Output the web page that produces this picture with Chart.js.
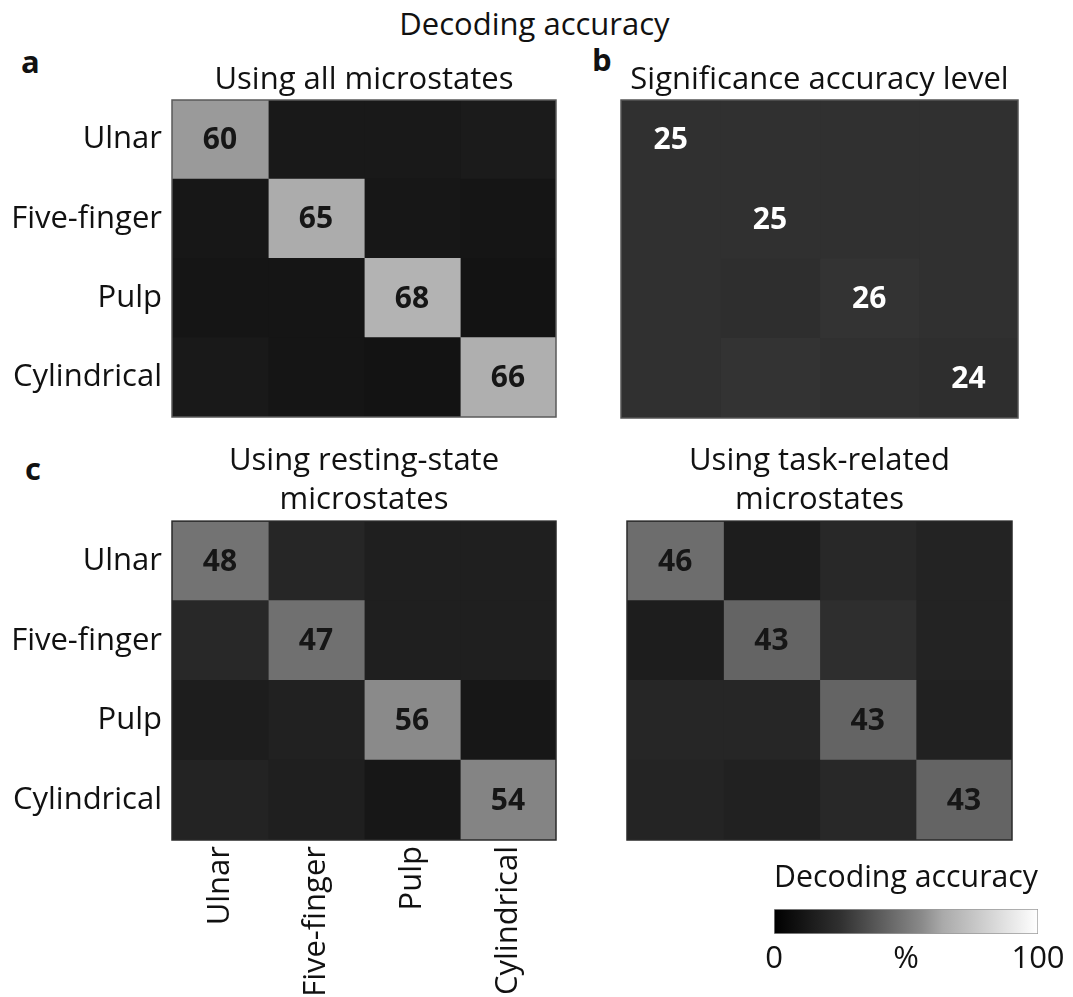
<!DOCTYPE html>
<html>
<head>
<meta charset="utf-8">
<script src="https://cdn.jsdelivr.net/npm/chart.js@4.4.1/dist/chart.umd.min.js"></script>
<style>
  body { margin: 0; background: #fff; width: 1073px; height: 997px; position: relative; overflow: hidden; font-family: "Open Sans", sans-serif; color: #111; }
  canvas { position: absolute; }
  .txt { position: absolute; white-space: nowrap; line-height: 1; }
  .letter { font-weight: bold; font-size: 31px; }
</style>
</head>
<body>
<div class="txt" style="left:0;width:1073px;top:8px;text-align:center;font-size:31px;padding-right:4px;box-sizing:border-box;">Decoding accuracy</div>
<div class="txt letter" style="left:21px;top:46px;">a</div>
<div class="txt letter" style="left:592px;top:44px;">b</div>
<div class="txt letter" style="left:25px;top:453px;">c</div>

<canvas id="panelA" width="570" height="367" style="left:0;top:55px;"></canvas>
<canvas id="panelB" width="473" height="368" style="left:600px;top:55px;"></canvas>
<canvas id="panelC1" width="570" height="561" style="left:0;top:436px;"></canvas>
<canvas id="panelC2" width="473" height="410" style="left:600px;top:436px;"></canvas>
<canvas id="colorbar" width="333" height="130" style="left:740px;top:855px;"></canvas>

<script>
// grasp types (rows = true class, columns = decoded class)
const graspLabels = ['Ulnar', 'Five-finger', 'Pulp', 'Cylindrical'];

// decoding accuracy, % (diagonals printed in the figure, off-diagonals read from shading)
const allMicrostates = [
  [60, 13, 13, 14],
  [12, 65, 12, 11],
  [11, 11, 68, 10],
  [13, 11, 10, 66]
];
const significanceLevel = [
  [25, 25, 25, 25],
  [25, 25, 25, 25],
  [25, 24, 26, 25],
  [25, 26, 25, 24]
];
const restingState = [
  [48, 20, 16, 16],
  [21, 47, 16, 16],
  [15, 17, 56, 12],
  [18, 16, 12, 54]
];
const taskRelated = [
  [46, 15, 21, 18],
  [15, 43, 24, 18],
  [20, 20, 43, 17],
  [19, 17, 21, 43]
];

// colour bar
const colorbarRange = [0, 100];
const colorbarTicks = [0, 50, 100];
const colorbarTickLabels = ['0', '%', '100'];

// grey colormap (value -> grey level)
const grayStops = [[0, 0], [25, 48], [56, 138], [64, 170], [100, 255]];

function grayLevel(v) {
  for (let i = 1; i < grayStops.length; i++) {
    const [v0, g0] = grayStops[i - 1];
    const [v1, g1] = grayStops[i];
    if (v <= v1) return Math.round(g0 + (g1 - g0) * (v - v0) / (v1 - v0));
  }
  return 255;
}
function grayColor(v) {
  const g = grayLevel(v);
  return `rgb(${g},${g},${g})`;
}

const FONT = '"Open Sans", sans-serif';
const FONT_SIZE = 31;
Chart.defaults.font.family = FONT;
Chart.defaults.color = '#111';

// writes the diagonal values into the cells
const cellText = {
  id: 'cellText',
  afterDatasetsDraw(chart, args, opts) {
    const ctx = chart.ctx;
    ctx.save();
    ctx.font = `bold 30px ${FONT}`;
    ctx.fillStyle = opts.color;
    ctx.textAlign = 'center';
    ctx.textBaseline = 'middle';
    chart.data.datasets.forEach((ds, c) => {
      const el = chart.getDatasetMeta(c).data[c];
      ctx.fillText(String(opts.matrix[c][c]), (el.x + el.base) / 2, el.y + 1);
    });
    ctx.restore();
  }
};

// thin frame round the matrix
const frame = {
  id: 'frame',
  afterDraw(chart, args, opts) {
    const a = chart.chartArea;
    const ctx = chart.ctx;
    ctx.save();
    ctx.strokeStyle = opts.color || '#444';
    ctx.lineWidth = 1.5;
    ctx.strokeRect(a.left, a.top, a.right - a.left, a.bottom - a.top);
    ctx.restore();
  }
};

function noEdgePadding(axis) {
  axis.paddingTop = 0;
  axis.paddingBottom = 0;
  axis.paddingLeft = 0;
  axis.paddingRight = 0;
}

function matrixChart(id, matrix, cfg) {
  const datasets = graspLabels.map((name, c) => ({
    label: name,
    data: matrix.map(() => [c, c + 1]),
    backgroundColor: matrix.map(row => grayColor(row[c])),
    borderWidth: 0,
    inflateAmount: 0.6,
    grouped: false,
    barPercentage: 1,
    categoryPercentage: 1
  }));
  return new Chart(document.getElementById(id), {
    type: 'bar',
    data: { labels: graspLabels, datasets },
    plugins: [cellText, frame],
    options: {
      indexAxis: 'y',
      responsive: false,
      animation: false,
      devicePixelRatio: 1,
      layout: { padding: cfg.padding },
      scales: {
        y: {
          display: cfg.showRows,
          grid: { display: false, drawTicks: false },
          border: { display: false },
          ticks: { font: { size: FONT_SIZE }, padding: 10, color: '#111' },
          afterFit: axis => {
            axis.width = cfg.yWidth || 0;
            noEdgePadding(axis);
          }
        },
        x: {
          type: 'linear',
          min: 0,
          max: graspLabels.length,
          display: cfg.showCols,
          grid: { display: false, drawTicks: false },
          border: { display: false },
          afterBuildTicks: axis => { axis.ticks = graspLabels.map((_, i) => ({ value: i + 0.5 })); },
          ticks: {
            autoSkip: false,
            minRotation: 90,
            maxRotation: 90,
            padding: 6,
            font: { size: FONT_SIZE },
            color: '#111',
            callback: (v, i) => graspLabels[i]
          },
          afterFit: axis => {
            if (cfg.xHeight) axis.height = cfg.xHeight;
            noEdgePadding(axis);
          }
        }
      },
      plugins: {
        legend: { display: false },
        tooltip: { enabled: false },
        title: {
          display: true,
          fullSize: false,
          text: cfg.title,
          color: '#111',
          font: { size: FONT_SIZE, weight: 'normal', lineHeight: cfg.titleLineHeight },
          padding: cfg.titlePadding
        },
        cellText: { color: cfg.textColor, matrix },
        frame: { color: cfg.frameColor }
      }
    }
  });
}

matrixChart('panelA', allMicrostates, {
  title: 'Using all microstates',
  titleLineHeight: 1.2,
  titlePadding: { top: 6.4, bottom: 1.4 },
  padding: { left: 0, right: 14, bottom: 5, top: 0 },
  showRows: true, showCols: false, yWidth: 172,
  textColor: '#161616', frameColor: '#5a5a5a'
});

matrixChart('panelB', significanceLevel, {
  title: 'Significance accuracy level',
  titleLineHeight: 1.2,
  titlePadding: { top: 6.4, bottom: 1.4 },
  padding: { left: 21, right: 55, bottom: 5, top: 0 },
  showRows: false, showCols: false,
  textColor: '#ffffff', frameColor: '#555'
});

matrixChart('panelC1', restingState, {
  title: ['Using resting-state', 'microstates'],
  titleLineHeight: 1.26,
  titlePadding: { top: 5.5, bottom: 1.5 },
  padding: { left: 0, right: 14, bottom: 0, top: 0 },
  showRows: true, showCols: true, yWidth: 172, xHeight: 157,
  textColor: '#161616', frameColor: '#2a2a2a'
});

matrixChart('panelC2', taskRelated, {
  title: ['Using task-related', 'microstates'],
  titleLineHeight: 1.26,
  titlePadding: { top: 5.5, bottom: 1.5 },
  padding: { left: 27, right: 61, bottom: 6, top: 0 },
  showRows: false, showCols: false,
  textColor: '#161616', frameColor: '#2a2a2a'
});

new Chart(document.getElementById('colorbar'), {
  type: 'bar',
  data: {
    labels: [''],
    datasets: [{
      data: [colorbarRange],
      backgroundColor: c => {
        const { chartArea, ctx } = c.chart;
        if (!chartArea) return '#888';
        const g = ctx.createLinearGradient(chartArea.left, 0, chartArea.right, 0);
        grayStops.forEach(([v]) => g.addColorStop(v / 100, grayColor(v)));
        return g;
      },
      borderColor: '#9a9a9a',
      borderWidth: 1,
      borderSkipped: false,
      barPercentage: 1,
      categoryPercentage: 1
    }]
  },
  options: {
    indexAxis: 'y',
    responsive: false,
    animation: false,
    devicePixelRatio: 1,
    layout: { padding: { left: 34, right: 35, top: 0, bottom: 0 } },
    scales: {
      y: { display: false },
      x: {
        type: 'linear',
        min: colorbarRange[0],
        max: colorbarRange[1],
        grid: { display: false, drawTicks: false },
        border: { display: false },
        afterBuildTicks: axis => { axis.ticks = colorbarTicks.map(v => ({ value: v })); },
        ticks: {
          autoSkip: false,
          maxRotation: 0,
          padding: 7,
          font: { size: FONT_SIZE },
          color: '#111',
          callback: (v, i) => colorbarTickLabels[i]
        },
        afterFit: axis => { axis.height = 51; }
      }
    },
    plugins: {
      legend: { display: false },
      tooltip: { enabled: false },
      title: {
        display: true,
        fullSize: false,
        text: 'Decoding accuracy',
        color: '#111',
        font: { size: FONT_SIZE, weight: 'normal', lineHeight: 1.2 },
        padding: { top: 4.4, bottom: 12.4 }
      }
    }
  }
});
</script>
</body>
</html>
